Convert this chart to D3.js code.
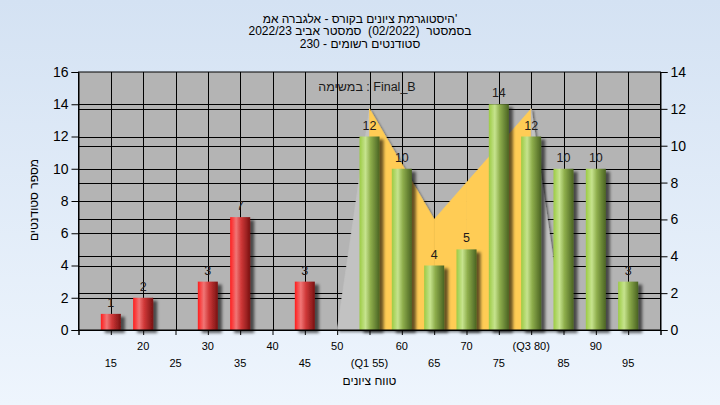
<!DOCTYPE html>
<html><head><meta charset="utf-8">
<script src="https://cdn.jsdelivr.net/npm/d3@7"></script>
<style>body{margin:0}svg{display:block;font-family:"Liberation Sans",Arial,sans-serif}</style>
</head><body><svg id="c" width="720" height="405"></svg>
<script>
const categories=[15,20,25,30,35,40,45,50,55,60,65,70,75,80,85,90,95];
const counts=[1,2,0,3,7,0,3,0,12,10,4,5,14,12,10,10,3];
const xTickLabels=["15","20","25","30","35","40","45","50","(Q1 55)","60","65","70","75","(Q3 80)","85","90","95"];
const leftTicks=[0,2,4,6,8,10,12,14,16];
const rightTicks=[0,2,4,6,8,10,12,14];
const curveCats=[50,55,60,65,70,75,80,85];
const curveVals=[0,12,9,6,8,10,12,0];
const q1=55, q3=80, passMark=55;
const titleLines=["היסטוגרמת ציונים בקורס - אלגברה אמ'","בסמסטר  (02/2022)  סמסטר אביב 2022/23","סטודנטים רשומים - 230"];
const taskLabel="במשימה : Final_B";
const yTitle="מספר סטודנטים", xTitle="טווח ציונים";

const svg=d3.select("#c");
const L=78.5,R=660.5,T=72,B=330;
const x=d3.scaleLinear().domain([10,100]).range([L,R]);
const yL=d3.scaleLinear().domain([0,16]).range([B,T]);
const yR=d3.scaleLinear().domain([0,14]).range([B,T]);
const step=x(20)-x(15), bw=step*0.62;

const defs=svg.append("defs");
const bg=defs.append("linearGradient").attr("id","bg").attr("x1",0).attr("y1",0).attr("x2",0).attr("y2",1);
bg.append("stop").attr("offset","0%").attr("stop-color","#d4e2f3");
bg.append("stop").attr("offset","100%").attr("stop-color","#eef5fd");
function grad(id,stops){const g=defs.append("linearGradient").attr("id",id).attr("x1",0).attr("x2",1).attr("y1",0).attr("y2",0);
 stops.forEach(s=>g.append("stop").attr("offset",s[0]).attr("stop-color",s[1]));}
grad("red",[["0%","#ff1c1c"],["30%","#f07676"],["55%","#d03838"],["100%","#781212"]]);
grad("green",[["0%","#9ccb44"],["30%","#c6e38e"],["55%","#8eae4c"],["100%","#4a6322"]]);
function shadow(id,dx,dy,sd,op){const f=defs.append("filter").attr("id",id).attr("x","-20%").attr("y","-20%").attr("width","150%").attr("height","150%");
 f.append("feDropShadow").attr("dx",dx).attr("dy",dy).attr("stdDeviation",sd).attr("flood-color","#000").attr("flood-opacity",op);}
shadow("bsh",4,3,1.6,0.6);
shadow("ash",2,2,1,0.45);

svg.append("rect").attr("width",720).attr("height",405).attr("fill","url(#bg)");
svg.append("rect").attr("x",L).attr("y",T).attr("width",R-L).attr("height",B-T).attr("fill","#b4b4b4");

// gridlines
const grid=svg.append("g").attr("stroke","#000").attr("stroke-width",1);
grid.selectAll("line.v").data(categories).join("line").attr("x1",d=>Math.round(x(d))+0.5).attr("x2",d=>Math.round(x(d))+0.5).attr("y1",T).attr("y2",B);
grid.selectAll("line.hl").data(leftTicks.slice(1,-1)).join("line").attr("x1",L).attr("x2",R).attr("y1",d=>Math.round(yL(d))+0.5).attr("y2",d=>Math.round(yL(d))+0.5);
grid.selectAll("line.hr").data(rightTicks.slice(1,-1)).join("line").attr("class","hr").attr("x1",L).attr("x2",R).attr("y1",d=>Math.round(yR(d))+0.5).attr("y2",d=>Math.round(yR(d))+0.5);

// area curve
const ag=svg.append("g").attr("filter","url(#ash)");
const area=d3.area().x(d=>x(d[0])).y0(yR(0)).y1(d=>yR(d[1]));
for(let i=0;i<curveCats.length-1;i++){
  const seg=[[curveCats[i],curveVals[i]],[curveCats[i+1],curveVals[i+1]]];
  const inside=curveCats[i]>=q1&&curveCats[i+1]<=q3;
  ag.append("path").attr("d",area(seg)).attr("fill",inside?"#ffcc55":"#c2c2c2").attr("stroke",inside?"#ffcc55":"#c2c2c2").attr("stroke-width",0.6);
}

// bars
const bars=categories.map((c,i)=>({c,v:counts[i]})).filter(d=>d.v>0);
svg.append("g").attr("filter","url(#bsh)").selectAll("rect").data(bars).join("rect")
 .attr("x",d=>x(d.c)-bw/2).attr("width",bw).attr("y",d=>yL(d.v)).attr("height",d=>yL(0)-yL(d.v))
 .attr("fill",d=>d.c<passMark?"url(#red)":"url(#green)");
svg.append("g").selectAll("text").data(bars).join("text")
 .attr("x",d=>x(d.c)).attr("y",d=>yL(d.v)-7).attr("text-anchor","middle").attr("font-size",12.5).attr("fill","#221a1a").text(d=>d.v);

// border
svg.append("rect").attr("x",L).attr("y",T).attr("width",R-L).attr("height",B-T).attr("fill","none").attr("stroke","#000");

// axes
const ax=svg.append("g").attr("transform",`translate(${L},0)`).call(d3.axisLeft(yL).tickValues(leftTicks).tickSize(7).tickPadding(3));
const axr=svg.append("g").attr("transform",`translate(${R},0)`).call(d3.axisRight(yR).tickValues(rightTicks).tickSize(7).tickPadding(3));
const axb=svg.append("g").attr("transform",`translate(0,${B})`).call(d3.axisBottom(x).tickValues([10].concat(categories,[100])).tickSize(5).tickFormat(""));
[ax,axr,axb].forEach(a=>{a.selectAll("path").attr("stroke","#000");a.selectAll("line").attr("stroke","#000");
 a.selectAll("text").attr("font-size",14).attr("fill","#000").attr("font-family","Liberation Sans, Arial, sans-serif");});

svg.append("g").selectAll("text").data(categories).join("text")
 .attr("x",d=>x(d)).attr("y",(d,i)=>i%2===1?350:366.5).attr("text-anchor","middle").attr("font-size",11).attr("fill","#000")
 .text((d,i)=>xTickLabels[i]);

svg.append("text").attr("x",x(55)).attr("y",385).attr("text-anchor","middle").attr("font-size",12).attr("fill","#000").text(xTitle);
svg.append("text").attr("transform","translate(38,200) rotate(-90)").attr("text-anchor","middle").attr("font-size",12).attr("fill","#000").text(yTitle);

svg.append("g").selectAll("text").data(titleLines).join("text")
 .attr("x",360).attr("y",(d,i)=>22.5+i*12.5).attr("text-anchor","middle").attr("font-size",12).attr("fill","#000")
 .style("white-space","pre").text(d=>d);

svg.append("text").attr("x",367).attr("y",91).attr("text-anchor","middle").attr("font-size",12.5).attr("fill","#1a1a1a").text(taskLabel);
</script></body></html>
